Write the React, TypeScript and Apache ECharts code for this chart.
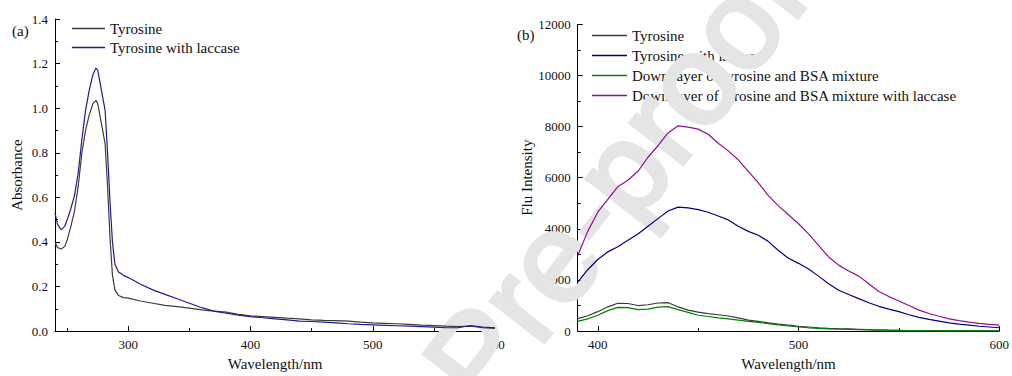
import React, { useEffect, useRef } from "react";
import * as echarts from "echarts";

// ---- Panel (a): UV absorbance ----
const wavelengthA = [240, 242, 245, 248, 250, 253, 256, 259, 262, 265, 268, 271, 273.5, 275, 277, 279, 281, 283, 285, 287, 289, 292, 296, 300, 310, 320, 330, 340, 350, 360, 370, 380, 390, 400, 410, 420, 430, 440, 450, 460, 470, 480, 490, 500, 510, 520, 530, 540, 550, 560, 570, 580, 590, 600];
const tyrosineA = [0.40, 0.375, 0.368, 0.38, 0.41, 0.47, 0.54, 0.65, 0.80, 0.90, 0.97, 1.02, 1.035, 1.02, 0.96, 0.90, 0.84, 0.65, 0.42, 0.25, 0.185, 0.16, 0.15, 0.148, 0.135, 0.125, 0.115, 0.11, 0.103, 0.095, 0.09, 0.085, 0.075, 0.068, 0.065, 0.062, 0.058, 0.055, 0.05, 0.048, 0.047, 0.045, 0.04, 0.037, 0.035, 0.033, 0.03, 0.027, 0.025, 0.022, 0.02, 0.022, 0.015, 0.012];
const laccaseA = [0.53, 0.48, 0.455, 0.47, 0.50, 0.55, 0.61, 0.71, 0.86, 0.99, 1.08, 1.15, 1.18, 1.17, 1.11, 1.05, 0.99, 0.80, 0.58, 0.40, 0.30, 0.265, 0.25, 0.24, 0.21, 0.185, 0.165, 0.145, 0.125, 0.105, 0.09, 0.08, 0.072, 0.065, 0.06, 0.055, 0.05, 0.045, 0.043, 0.04, 0.037, 0.033, 0.03, 0.028, 0.026, 0.024, 0.022, 0.02, 0.018, 0.015, 0.016, 0.025, 0.018, 0.015];
const yTicksA = { min: 0, max: 1.4, interval: 0.2 };
const xLabelsA = [300, 400, 500, 600];
const xMinorA = [250, 350, 450, 550];

// ---- Panel (b): fluorescence ----
const wavelengthB = [390, 395, 400, 405, 410, 415, 420, 425, 430, 435, 440, 445, 450, 455, 460, 465, 470, 475, 480, 485, 490, 495, 500, 505, 510, 515, 520, 525, 530, 535, 540, 545, 550, 555, 560, 565, 570, 575, 580, 585, 590, 595, 600];
const tyrosineB = [490, 600, 760, 950, 1090, 1080, 1000, 1030, 1100, 1110, 950, 820, 740, 680, 640, 590, 520, 430, 380, 320, 270, 230, 190, 160, 130, 110, 95, 85, 70, 55, 45, 35, 28, 22, 18, 15, 12, 10, 9, 8, 7, 6, 5];
const laccaseB = [1920, 2400, 2800, 3100, 3300, 3550, 3800, 4100, 4400, 4700, 4850, 4820, 4750, 4650, 4500, 4350, 4100, 3900, 3750, 3500, 3150, 2850, 2650, 2430, 2150, 1850, 1600, 1430, 1270, 1110, 970, 860, 760, 640, 540, 460, 390, 320, 270, 230, 190, 160, 130];
const bsaB = [380, 480, 620, 800, 930, 920, 840, 860, 940, 960, 840, 730, 620, 570, 520, 480, 430, 380, 340, 290, 240, 200, 160, 130, 110, 90, 75, 65, 55, 45, 35, 30, 25, 20, 18, 15, 12, 10, 8, 7, 6, 5, 4];
const bsaLaccaseB = [2950, 3900, 4650, 5150, 5650, 5900, 6250, 6800, 7250, 7750, 8030, 7980, 7900, 7700, 7350, 7050, 6700, 6250, 5800, 5300, 4900, 4550, 4200, 3800, 3350, 2900, 2580, 2350, 2150, 1850, 1550, 1350, 1180, 1000, 820, 690, 580, 480, 410, 350, 300, 260, 230];
const yTicksB = { min: 0, max: 12000, interval: 2000 };
const xLabelsB = [400, 500, 600];
const xMinorB = [450, 550];

const namesA = ["Tyrosine", "Tyrosine with laccase"];
const namesB = [
  "Tyrosine",
  "Tyrosine with laccase",
  "Down layer of tyrosine and BSA mixture",
  "Down layer of tyrosine and BSA mixture with laccase",
];
const B_SUFFIX = " [b]";

const FONT = "Liberation Serif, Times New Roman, serif";

function pairs(xs: number[], ys: number[]) {
  return xs.map((x, i) => [x, ys[i]]);
}

function majorXAxis(grid: number, min: number, max: number, labels: number[]) {
  return {
    type: "value",
    gridIndex: grid,
    min,
    max,
    position: "bottom",
    axisLine: { show: true, onZero: false, lineStyle: { color: "#000", width: 1 } },
    axisTick: { show: true, inside: true, length: 5, customValues: labels, lineStyle: { color: "#000" } },
    axisLabel: { show: true, customValues: labels, margin: 7, color: "#111", fontFamily: FONT, fontSize: 13 },
    splitLine: { show: false },
    name: "Wavelength/nm",
    nameLocation: "middle",
    nameGap: 21,
    nameTextStyle: { color: "#111", fontFamily: FONT, fontSize: 15 },
  };
}

function minorXAxis(grid: number, min: number, max: number, minors: number[]) {
  return {
    type: "value",
    gridIndex: grid,
    min,
    max,
    position: "bottom",
    axisLine: { show: false, onZero: false },
    axisTick: { show: true, inside: true, length: 3, customValues: minors, lineStyle: { color: "#000" } },
    axisLabel: { show: false },
    splitLine: { show: false },
  };
}

function yAxis(grid: number, t: { min: number; max: number; interval: number }, name: string, gap: number, digits: number) {
  return {
    type: "value",
    gridIndex: grid,
    min: t.min,
    max: t.max,
    interval: t.interval,
    axisLine: { show: true, onZero: false, lineStyle: { color: "#000", width: 1 } },
    axisTick: { show: true, inside: true, length: 5, lineStyle: { color: "#000" } },
    minorTick: { show: true, splitNumber: 2, length: 3, lineStyle: { color: "#000" } },
    axisLabel: {
      margin: 7,
      color: "#111",
      fontFamily: FONT,
      fontSize: 13,
      formatter: (v: number) => v.toFixed(digits),
    },
    splitLine: { show: false },
    minorSplitLine: { show: false },
    name,
    nameLocation: "middle",
    nameGap: gap,
    nameTextStyle: { color: "#111", fontFamily: FONT, fontSize: 15 },
  };
}

function lineSeries(name: string, xi: number, yi: number, data: number[][], color: string) {
  return {
    type: "line",
    name,
    xAxisIndex: xi,
    yAxisIndex: yi,
    data,
    symbol: "none",
    showSymbol: false,
    color,
    itemStyle: { color },
    lineStyle: { color, width: 1.2 },
    z: 10,
  };
}

export default function App() {
  const ref = useRef<HTMLDivElement>(null);
  useEffect(() => {
    if (!ref.current) return;
    const chart = echarts.init(ref.current, undefined, { renderer: "svg" });
    const colorsA = ["#3c3c3c", "#1c1c98"];
    const colorsB = ["#3a3a3a", "#000080", "#008000", "#8f0f8f"];
    const seriesB = [tyrosineB, laccaseB, bsaB, bsaLaccaseB];
    const legendText = { color: "#111", fontFamily: FONT, fontSize: 15, lineHeight: 14 };
    const option = {
      animation: false,
      backgroundColor: "#fff",
      grid: [
        { left: 55, top: 19, width: 440, height: 318 },
        { left: 577.7, top: 24.3, width: 425, height: 312.4 },
      ],
      xAxis: [
        majorXAxis(0, 240, 600, xLabelsA),
        minorXAxis(0, 240, 600, xMinorA),
        majorXAxis(1, 390, 600, xLabelsB),
        minorXAxis(1, 390, 600, xMinorB),
      ],
      yAxis: [yAxis(0, yTicksA, "Absorbance", 31, 1), yAxis(1, yTicksB, "Flu Intensity", 40, 0)],
      legend: [
        {
          orient: "vertical",
          left: 67,
          top: 16,
          icon: "rect",
          itemWidth: 33,
          itemHeight: 1.3,
          itemGap: 4,
          data: namesA,
          textStyle: legendText,
          selectedMode: false,
        },
        {
          orient: "vertical",
          left: 587,
          top: 23,
          icon: "rect",
          itemWidth: 35,
          itemHeight: 1.3,
          itemGap: 5,
          data: namesB.map((n) => n + B_SUFFIX),
          formatter: (n: string) => n.replace(B_SUFFIX, ""),
          textStyle: legendText,
          selectedMode: false,
        },
      ],
      series: [
        lineSeries(namesA[0], 0, 0, pairs(wavelengthA, tyrosineA), colorsA[0]),
        lineSeries(namesA[1], 0, 0, pairs(wavelengthA, laccaseA), colorsA[1]),
        ...namesB.map((n, i) => lineSeries(n + B_SUFFIX, 2, 1, pairs(wavelengthB, seriesB[i]), colorsB[i])),
      ],
      graphic: [
        {
          type: "text",
          left: 12,
          top: 23,
          style: { text: "(a)", fill: "#111", font: `15px ${FONT}` },
        },
        {
          type: "text",
          left: 517,
          top: 27,
          style: { text: "(b)", fill: "#111", font: `15px ${FONT}` },
        },
        {
          type: "text",
          x: 615,
          y: 180,
          rotation: (52 * Math.PI) / 180,
          z: 5,
          style: {
            text: "Pre-proof",
            fill: "#e5e5e5",
            stroke: "#e5e5e5",
            lineWidth: 4,
            font: "127px Liberation Sans, Arial, sans-serif",
            align: "center",
            verticalAlign: "middle",
          },
        },
      ],
    };
    chart.setOption(option as any);
    return () => chart.dispose();
  }, []);
  return <div ref={ref} style={{ position: "fixed", left: 0, top: 0, width: 1012, height: 376 }} />;
}
